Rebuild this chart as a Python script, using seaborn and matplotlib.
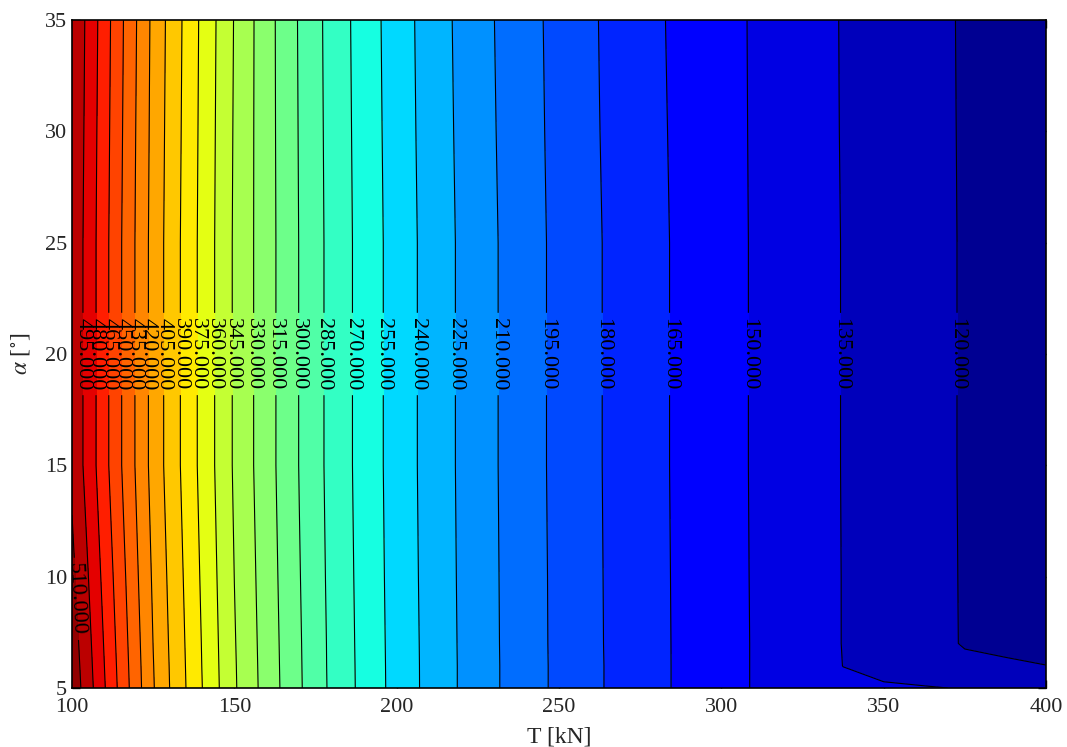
import numpy as np
import matplotlib
matplotlib.use("Agg")
import matplotlib.pyplot as plt
import seaborn as sns

# grid: thrust T [kN] along x, angle alpha [deg] along y
T_kN = [100, 105, 110, 115, 120, 125, 130, 140, 150, 160, 170, 180, 190, 200,
        212.5, 225, 237.5, 250, 262.5, 275, 287.5, 300, 312.5, 325, 337.5,
        350, 362.5, 375, 387.5, 400]
alpha_deg = [5, 6, 7, 10, 15, 20, 25, 30, 35]

z_a05 = [520.4, 501.3, 481.0, 460.6, 440.5, 421.1, 405.2, 375.4, 346.7, 323.9,
         301.8, 282.1, 265.4, 249.7, 232.5, 217.3, 203.8, 191.8, 181.0, 171.7,
         162.9, 155.1, 147.8, 141.2, 137.0, 137.1, 136.1, 134.2, 131.0, 128.0]
z_a06 = [519.1, 500.1, 479.9, 459.7, 439.8, 420.5, 404.7, 374.9, 346.4, 323.6,
         301.6, 281.9, 265.3, 249.6, 232.5, 217.3, 203.8, 191.8, 181.0, 171.7,
         162.9, 155.1, 147.8, 141.2, 134.9, 129.6, 124.8, 122.4, 123.1, 120.3]
z_a07 = [517.7, 498.9, 478.8, 458.7, 439.0, 419.8, 404.1, 374.5, 346.0, 323.3,
         301.4, 281.8, 265.1, 249.5, 232.4, 217.2, 203.7, 191.7, 180.9, 171.6,
         162.9, 155.1, 147.8, 141.2, 134.7, 129.5, 124.2, 119.2, 114.9, 110.6]
z_a10 = [513.7, 495.2, 475.5, 455.9, 436.6, 417.9, 402.5, 373.1, 344.9, 322.4,
         300.7, 281.2, 264.7, 249.1, 232.1, 217.0, 203.6, 191.6, 180.8, 171.5,
         162.8, 155.0, 147.7, 141.1, 134.7, 129.5, 124.3, 119.1, 114.8, 110.5]
z_a15 = [507.0, 489.2, 470.0, 451.1, 432.7, 414.7, 399.7, 370.9, 343.2, 321.0,
         299.6, 280.4, 264.1, 248.6, 231.7, 216.7, 203.3, 191.3, 180.6, 171.3,
         162.6, 154.8, 147.6, 141.0, 134.6, 129.4, 124.2, 119.0, 114.8, 110.5]
z_a20 = [507.0, 489.2, 470.0, 451.1, 432.7, 414.7, 399.7, 370.9, 343.2, 321.0,
         299.6, 280.4, 264.1, 248.6, 231.7, 216.7, 203.3, 191.3, 180.6, 171.3,
         162.6, 154.8, 147.6, 141.0, 134.6, 129.4, 124.2, 119.0, 114.8, 110.5]
z_a25 = [507.0, 489.2, 470.0, 451.1, 432.7, 414.7, 399.7, 370.9, 343.2, 321.0,
         299.6, 280.4, 264.1, 248.6, 231.7, 216.7, 203.3, 191.3, 180.6, 171.3,
         162.6, 154.8, 147.6, 141.0, 134.6, 129.4, 124.2, 119.0, 114.8, 110.5]
z_a30 = [508.0, 490.2, 471.0, 452.1, 433.6, 415.5, 400.5, 371.5, 343.7, 320.8,
         299.2, 280.0, 263.6, 248.0, 231.1, 216.0, 202.7, 190.8, 180.1, 170.8,
         162.2, 154.6, 147.5, 140.9, 134.4, 129.2, 124.1, 118.9, 114.7, 110.4]
z_a35 = [509.0, 491.2, 472.1, 453.1, 434.6, 416.3, 401.3, 372.1, 344.3, 320.7,
         298.8, 279.6, 263.1, 247.5, 230.6, 215.4, 202.2, 190.4, 179.7, 170.3,
         161.8, 154.5, 147.4, 140.8, 134.3, 129.1, 124.0, 118.8, 114.6, 110.4]

levels = [105, 120, 135, 150, 165, 180, 195, 210, 225, 240, 255, 270, 285, 300,
          315, 330, 345, 360, 375, 390, 405, 420, 435, 450, 465, 480, 495, 510, 525]

sns.set_style("ticks", {"xtick.direction": "in", "ytick.direction": "in",
                        "axes.edgecolor": "black"})
plt.rcParams["font.family"] = ["Liberation Serif", "DejaVu Serif"]
plt.rcParams["mathtext.fontset"] = "stix"
plt.rcParams["xtick.top"] = True
plt.rcParams["ytick.right"] = True

Z = np.array([z_a05, z_a06, z_a07, z_a10, z_a15, z_a20, z_a25, z_a30, z_a35])
X, Y = np.meshgrid(T_kN, alpha_deg)

fig = plt.figure(figsize=(10.67, 7.47), dpi=100)
ax = fig.add_axes([0.0675, 0.079, 0.9128, 0.8942])

jet = matplotlib.colormaps["jet"]
ax.contourf(X, Y, Z, levels=levels, cmap=jet)
cs = ax.contour(X, Y, Z, levels=levels, colors="k", linewidths=0.8)

# labels sit across the middle of the plot, the 510 one lower down near the left edge
row_T = T_kN[::-1]
row_z = z_a20[::-1]
spots = [(np.interp(lv, row_z, row_T), 20.0) for lv in levels
         if min(z_a20) < lv < max(z_a20)]
spots.append((np.interp(510, z_a10[::-1], row_T), 9.0))
ax.clabel(cs, fmt="%.3f", fontsize=16, inline=True, manual=spots)

ax.set_xlim(100, 400)
ax.set_ylim(5, 35)
ax.set_xticks([100, 150, 200, 250, 300, 350, 400])
ax.set_yticks([5, 10, 15, 20, 25, 30, 35])
ax.tick_params(labelsize=16, length=6, width=1, color="black")
ax.tick_params(axis="x", pad=7)
for s in ax.spines.values():
    s.set_linewidth(1.2)
ax.set_xlabel("T [kN]", fontsize=17, labelpad=7)
ax.set_ylabel(r"$\alpha$ [$^{\circ}$]", fontsize=17, labelpad=9)

fig.savefig("out.png", dpi=100, facecolor="white")
